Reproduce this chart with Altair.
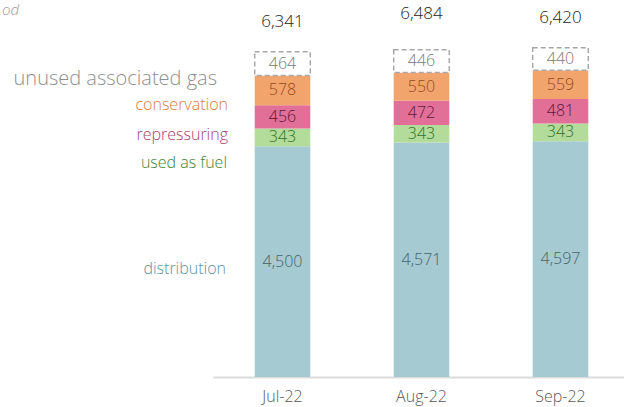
import altair as alt
import pandas as pd

months = ["Jul-22", "Aug-22", "Sep-22"]
distribution = [4500, 4571, 4597]
used_as_fuel = [343, 343, 343]
repressuring = [456, 472, 481]
conservation = [578, 550, 559]
unused_gas = [464, 446, 440]
totals = [6341, 6484, 6420]

series_names = ["distribution", "used as fuel", "repressuring", "conservation", "unused associated gas"]
series_values = [distribution, used_as_fuel, repressuring, conservation, unused_gas]

FONT = "Open Sans"
W = 300
bar_colors = ["#a6cad1", "#b3dc9b", "#e16f97", "#f2a46d"]
text_colors = ["#42646e", "#2d7228", "#5e1838", "#944a22", "#7a7a7a"]
label_colors = ["#5b93a8", "#3f8237", "#a8446a", "#d97a3e", "#8f8f8f"]

rows = []
for i, m in enumerate(months):
    base = 0
    for s, vals in zip(series_names, series_values):
        v = vals[i]
        rows.append({"month": m, "series": s, "value": v, "y0": base, "y1": base + v, "mid": base + v / 2})
        base += v
df = pd.DataFrame(rows)
tot = pd.DataFrame({"month": months, "total": totals})

xs = alt.X("month:N", sort=months,
           scale=alt.Scale(range=[0, 417], paddingInner=0.6, paddingOuter=0.3),
           axis=alt.Axis(title=None, labelAngle=0, labelFontSize=16, labelColor="#5a5a5a",
                         labelFont=FONT, labelFontWeight=W, ticks=False, domainColor="#dcdcdc",
                         domainWidth=2, labelPadding=11))
ysc = alt.Scale(domain=[0, 7350], range=[377, 0])

base = alt.Chart(df)

bars = base.transform_filter(alt.datum.series != "unused associated gas").mark_bar().encode(
    x=xs,
    y=alt.Y("y0:Q", scale=ysc, axis=None),
    y2="y1:Q",
    color=alt.Color("series:N", scale=alt.Scale(domain=series_names[:4], range=bar_colors), legend=None),
)

unused = base.transform_filter(alt.datum.series == "unused associated gas").mark_bar(
    fill="white", stroke="#a8a8a8", strokeWidth=1.5, strokeDash=[5, 3]
).encode(x=xs, y=alt.Y("y0:Q", scale=ysc, axis=None), y2="y1:Q")

vals = base.mark_text(font=FONT, fontSize=16, fontWeight=W, baseline="middle").encode(
    x=xs,
    y=alt.Y("mid:Q", scale=ysc),
    text=alt.Text("value:Q", format=",.0f"),
    color=alt.Color("series:N", scale=alt.Scale(domain=series_names, range=text_colors), legend=None),
)

totals_layer = alt.Chart(tot).mark_text(font=FONT, fontSize=17, fontWeight=W, color="#1e1e1e",
                                        baseline="middle", dy=-30).encode(
    x=xs,
    y=alt.Y("total:Q", scale=ysc),
    text=alt.Text("total:Q", format=",.0f"),
)

# left-side series labels, anchored at the Jul segment midpoints
label_dy = [7, 26, 18, 15, 15]
label_sizes = [16, 16, 16, 16, 20]
label_x = [13, 14, 15, 15, 4]
layers = [bars, unused, vals, totals_layer]
jul = df[df.month == months[0]]
for name, dy, fs, lc, lx in zip(series_names, label_dy, label_sizes, label_colors, label_x):
    d = jul[jul.series == name]
    layers.append(
        alt.Chart(d).mark_text(font=FONT, fontSize=fs, fontWeight=W, color=lc, align="right",
                               baseline="middle", dy=dy).encode(
            x=alt.value(lx), y=alt.Y("mid:Q", scale=ysc), text="series:N"
        )
    )

title_txt = alt.Chart(pd.DataFrame({"t": ["od"]})).mark_text(
    font=FONT, fontSize=15, fontWeight=W, fontStyle="italic", color="#9a9a9a", align="left", baseline="top"
).encode(x=alt.value(-211), y=alt.value(3), text="t:N")
layers.append(title_txt)

chart = alt.layer(*layers).resolve_scale(color="independent").properties(
    width=411, height=377,
    autosize=alt.AutoSizeParams(type="none"),
    padding={"left": 213, "top": 0, "right": 0, "bottom": 30},
).configure_view(stroke=None)

chart.save("out.html", embed_options={"renderer": "svg", "actions": False})
